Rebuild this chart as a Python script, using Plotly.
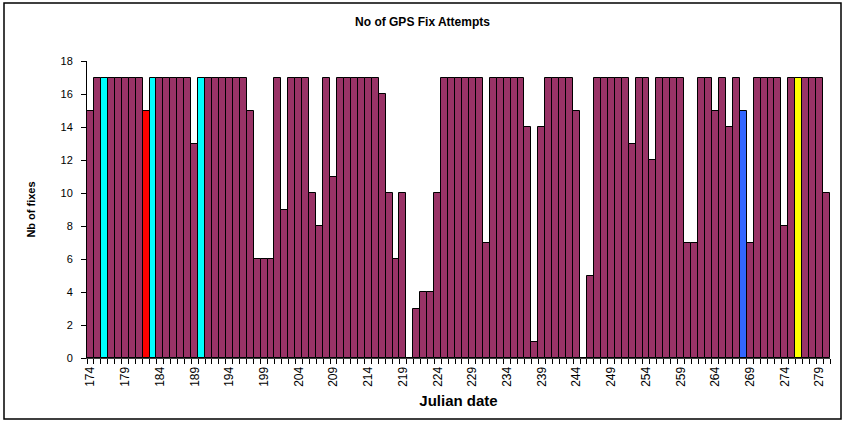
import plotly.graph_objects as go

# Dias julianos (174 a 280) y numero de intentos de fix GPS
dias = list(range(174, 281))
intentos = [
    15, 17, 17, 17, 17, 17, 17, 17, 15, 17,
    17, 17, 17, 17, 17, 13, 17, 17, 17, 17,
    17, 17, 17, 15, 6, 6, 6, 17, 9, 17,
    17, 17, 10, 8, 17, 11, 17, 17, 17, 17,
    17, 17, 16, 10, 6, 10, 0, 3, 4, 4,
    10, 17, 17, 17, 17, 17, 17, 7, 17, 17,
    17, 17, 17, 14, 1, 14, 17, 17, 17, 17,
    15, 0, 5, 17, 17, 17, 17, 17, 13, 17,
    17, 12, 17, 17, 17, 17, 7, 7, 17, 17,
    15, 17, 14, 17, 15, 7, 17, 17, 17, 17,
    8, 17, 17, 17, 17, 17, 10,
]

# Dias resaltados con otro color
dias_cian = [176, 183, 190]
dias_rojo = [182]
dias_azul = [268]
dias_amarillo = [276]

etiquetas_x = list(range(174, 281, 5))
ticks_y = list(range(0, 19, 2))

colores = []
for d in dias:
    if d in dias_cian:
        colores.append("#00FFFF")
    elif d in dias_rojo:
        colores.append("#FF0000")
    elif d in dias_azul:
        colores.append("#3366FF")
    elif d in dias_amarillo:
        colores.append("#FFFF00")
    else:
        colores.append("#993366")

fig = go.Figure(data=go.Bar(
    x=dias,
    y=intentos,
    marker=dict(color=colores, line=dict(color="black", width=1)),
))

fuente = "Liberation Sans, Arial, sans-serif"

fig.update_layout(
    width=845,
    height=421,
    margin=dict(l=87, r=15, t=61, b=63),
    plot_bgcolor="white",
    paper_bgcolor="white",
    bargap=0,
    showlegend=False,
    font=dict(family=fuente, color="black", size=11),
    title=dict(
        text="<b>No of GPS Fix Attempts</b>",
        x=0.5, xref="container", xanchor="center",
        y=1 - 22 / 421, yref="container", yanchor="middle",
        font=dict(size=12, family=fuente, color="black"),
    ),
    xaxis=dict(
        range=[173.5, 280.5],
        tickmode="array",
        tickvals=etiquetas_x,
        ticktext=[str(v) for v in etiquetas_x],
        tickangle=-90,
        tickfont=dict(size=12),
        ticks="",
        showline=True,
        linecolor="#404040",
        linewidth=1,
        showgrid=False,
        zeroline=False,
        ticklabelstandoff=3,
        minor=dict(ticks="outside", ticklen=5, tickcolor="black",
                   tick0=173.5, dtick=1, showgrid=False),
        title=dict(text="<b>Julian date</b>", font=dict(size=15), standoff=9),
    ),
    yaxis=dict(
        range=[0, 18],
        tickvals=ticks_y,
        ticks="outside",
        ticklen=5,
        tickcolor="black",
        tickfont=dict(size=11),
        showline=True,
        linecolor="black",
        linewidth=1,
        showgrid=False,
        zeroline=False,
        ticklabelstandoff=6,
        title=dict(text="<b>Nb of fixes</b>", font=dict(size=11), standoff=22),
    ),
    shapes=[dict(
        type="rect", xref="paper", yref="paper",
        x0=(4 - 87) / 743, x1=(841 - 87) / 743,
        y0=(358 - 419) / 297, y1=(358 - 3) / 297,
        line=dict(color="black", width=1.5),
        fillcolor="rgba(0,0,0,0)",
        layer="below",
    )],
)

# Quitar el margen por defecto del body para que la figura empiece en (0,0)
fig.write_html(
    "out.html",
    config={"displayModeBar": False},
    post_script="document.body.style.margin='0';",
)
